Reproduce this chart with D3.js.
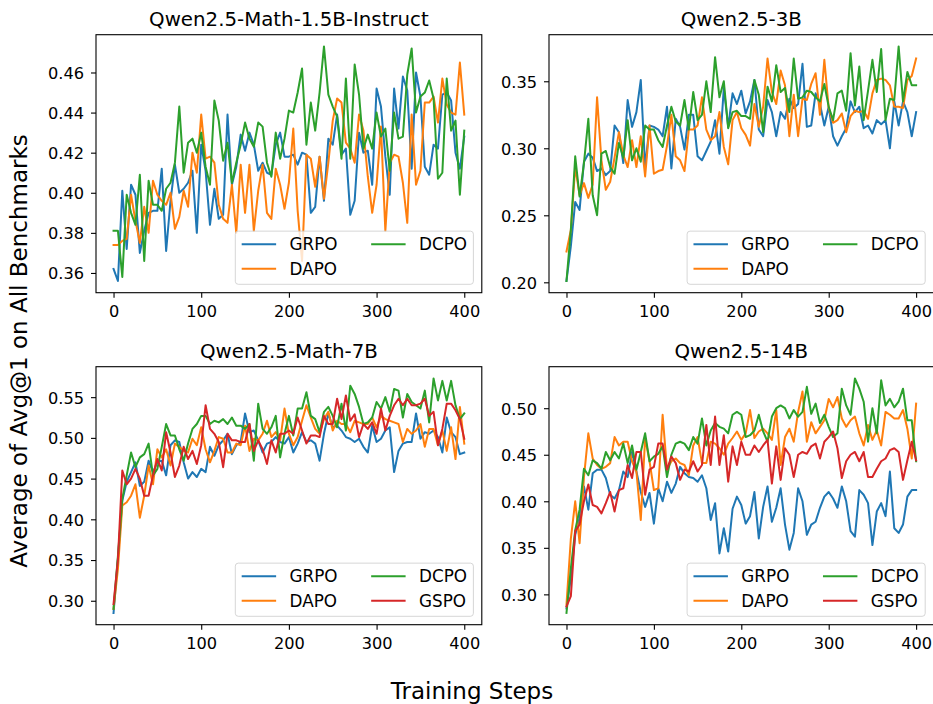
<!DOCTYPE html>
<html><head><meta charset="utf-8">
<script src="https://cdn.jsdelivr.net/npm/d3@7"></script>
<style>body{margin:0;background:#fff} svg{display:block} text{font-family:"DejaVu Sans",sans-serif;fill:#000}</style>
</head><body><svg id="c" width="933" height="704"></svg>
<script>
const steps = d3.range(0, 401, 5);
const xTicks = [0, 100, 200, 300, 400];
const methods = ["GRPO", "DAPO", "DCPO", "GSPO"];
const titles = ["Qwen2.5-Math-1.5B-Instruct", "Qwen2.5-3B", "Qwen2.5-Math-7B", "Qwen2.5-14B"];
const yTicks1 = [0.36, 0.38, 0.40, 0.42, 0.44, 0.46];
const yTicks2 = [0.20, 0.25, 0.30, 0.35];
const yTicks3 = [0.30, 0.35, 0.40, 0.45, 0.50, 0.55];
const yTicks4 = [0.30, 0.35, 0.40, 0.45, 0.50];

// Qwen2.5-Math-1.5B-Instruct
const m15_grpo = [0.362,0.356,0.401,0.372,0.404,0.399,0.370,0.381,0.390,0.391,
0.391,0.412,0.371,0.396,0.414,0.400,0.402,0.405,0.411,0.380,
0.424,0.411,0.384,0.402,0.387,0.389,0.439,0.404,0.413,0.429,
0.421,0.430,0.424,0.411,0.415,0.410,0.409,0.424,0.430,0.418,
0.418,0.419,0.414,0.420,0.419,0.390,0.393,0.418,0.396,0.427,
0.424,0.439,0.419,0.422,0.389,0.396,0.430,0.420,0.421,0.404,
0.452,0.443,0.418,0.399,0.452,0.432,0.458,0.451,0.412,0.460,
0.448,0.413,0.409,0.424,0.422,0.449,0.450,0.446,0.420,0.412,0.428];
const m15_dapo = [0.374,0.374,0.376,0.377,0.399,0.386,0.375,0.393,0.380,0.406,
0.399,0.396,0.394,0.400,0.382,0.388,0.401,0.393,0.420,0.410,
0.439,0.417,0.418,0.415,0.394,0.387,0.385,0.404,0.380,0.414,
0.390,0.414,0.381,0.401,0.414,0.390,0.387,0.412,0.404,0.392,
0.405,0.432,0.391,0.366,0.419,0.417,0.403,0.418,0.397,0.415,
0.436,0.447,0.445,0.425,0.422,0.415,0.439,0.431,0.408,0.390,
0.404,0.433,0.381,0.415,0.419,0.418,0.405,0.385,0.439,0.404,
0.411,0.445,0.445,0.448,0.435,0.457,0.444,0.440,0.439,0.465,0.439];
const m15_dcpo = [0.381,0.381,0.358,0.399,0.390,0.384,0.409,0.366,0.406,0.394,
0.394,0.391,0.402,0.405,0.415,0.443,0.410,0.425,0.427,0.420,
0.430,0.413,0.404,0.446,0.436,0.416,0.425,0.405,0.415,0.424,
0.435,0.427,0.423,0.435,0.433,0.415,0.408,0.430,0.417,0.427,
0.441,0.440,0.450,0.462,0.424,0.445,0.431,0.450,0.473,0.449,
0.443,0.438,0.417,0.457,0.417,0.464,0.449,0.422,0.429,0.422,
0.440,0.428,0.432,0.411,0.440,0.427,0.428,0.459,0.472,0.440,
0.448,0.450,0.456,0.447,0.407,0.410,0.457,0.431,0.436,0.399,0.431];

// Qwen2.5-3B
const q3_grpo = [0.201,0.227,0.260,0.254,0.290,0.296,0.293,0.283,0.285,0.280,
0.283,0.317,0.312,0.289,0.336,0.316,0.327,0.351,0.286,0.317,
0.316,0.314,0.309,0.331,0.285,0.322,0.316,0.299,0.325,0.325,
0.294,0.291,0.298,0.305,0.321,0.296,0.345,0.316,0.341,0.333,
0.343,0.326,0.335,0.351,0.314,0.309,0.336,0.327,0.309,0.327,
0.322,0.337,0.330,0.333,0.363,0.316,0.317,0.341,0.333,0.317,
0.331,0.309,0.302,0.309,0.315,0.335,0.327,0.331,0.315,0.317,
0.311,0.321,0.318,0.321,0.300,0.335,0.317,0.335,0.327,0.309,0.327];
const q3_dapo = [0.223,0.239,0.286,0.265,0.274,0.263,0.273,0.338,0.291,0.269,
0.275,0.293,0.312,0.295,0.286,0.306,0.286,0.309,0.279,0.317,
0.281,0.283,0.284,0.302,0.325,0.294,0.291,0.283,0.314,0.314,
0.317,0.338,0.314,0.306,0.309,0.327,0.301,0.288,0.321,0.327,
0.315,0.310,0.302,0.333,0.316,0.331,0.367,0.342,0.333,0.358,
0.347,0.309,0.340,0.309,0.337,0.336,0.348,0.356,0.325,0.366,
0.330,0.319,0.321,0.326,0.312,0.324,0.328,0.327,0.328,0.322,
0.341,0.351,0.352,0.351,0.347,0.331,0.331,0.330,0.351,0.354,0.367];
const q3_dcpo = [0.201,0.239,0.294,0.264,0.289,0.322,0.265,0.250,0.296,0.298,
0.286,0.281,0.304,0.293,0.321,0.291,0.300,0.290,0.317,0.314,
0.314,0.306,0.301,0.317,0.331,0.320,0.317,0.336,0.314,0.342,
0.321,0.325,0.350,0.327,0.368,0.338,0.350,0.315,0.327,0.328,
0.324,0.324,0.322,0.351,0.340,0.312,0.346,0.335,0.362,0.342,
0.345,0.327,0.367,0.337,0.338,0.343,0.342,0.338,0.335,0.348,
0.331,0.321,0.341,0.343,0.328,0.371,0.332,0.361,0.321,0.343,
0.366,0.342,0.374,0.321,0.337,0.336,0.376,0.335,0.357,0.347,0.347];

// Qwen2.5-Math-7B
const m7_grpo = [0.285,0.351,0.423,0.446,0.458,0.470,0.441,0.446,0.472,0.458,
0.470,0.472,0.454,0.491,0.497,0.495,0.470,0.450,0.458,0.452,
0.462,0.458,0.489,0.478,0.491,0.497,0.505,0.480,0.491,0.495,
0.530,0.507,0.509,0.497,0.482,0.493,0.495,0.501,0.495,0.493,
0.501,0.482,0.493,0.507,0.495,0.497,0.493,0.472,0.505,0.530,
0.513,0.515,0.509,0.501,0.499,0.495,0.499,0.489,0.482,0.515,
0.495,0.499,0.509,0.513,0.458,0.484,0.493,0.495,0.495,0.530,
0.499,0.507,0.505,0.509,0.501,0.482,0.525,0.507,0.501,0.480,0.482];
const m7_dapo = [0.290,0.339,0.417,0.421,0.429,0.443,0.402,0.429,0.466,0.443,
0.486,0.476,0.486,0.466,0.493,0.489,0.484,0.482,0.499,0.491,
0.513,0.486,0.470,0.484,0.501,0.499,0.482,0.482,0.493,0.491,
0.515,0.484,0.499,0.497,0.505,0.521,0.501,0.507,0.497,0.536,
0.505,0.491,0.501,0.521,0.540,0.525,0.511,0.505,0.523,0.532,
0.509,0.521,0.517,0.517,0.507,0.521,0.519,0.517,0.517,0.525,
0.513,0.527,0.523,0.521,0.519,0.517,0.495,0.511,0.505,0.509,
0.517,0.489,0.511,0.511,0.491,0.509,0.484,0.513,0.474,0.538,0.493];
const m7_dcpo = [0.290,0.355,0.425,0.454,0.482,0.464,0.476,0.480,0.493,0.454,
0.462,0.489,0.517,0.503,0.503,0.486,0.472,0.493,0.511,0.517,
0.527,0.527,0.517,0.521,0.519,0.523,0.517,0.525,0.515,0.515,
0.511,0.517,0.472,0.542,0.511,0.505,0.513,0.527,0.476,0.505,
0.527,0.503,0.536,0.536,0.556,0.527,0.523,0.507,0.532,0.538,
0.527,0.513,0.542,0.509,0.564,0.554,0.538,0.517,0.519,0.525,
0.544,0.536,0.550,0.532,0.560,0.558,0.525,0.554,0.544,0.540,
0.536,0.558,0.519,0.573,0.546,0.570,0.546,0.570,0.540,0.523,0.530];
const m7_gspo = [0.296,0.351,0.460,0.443,0.450,0.462,0.450,0.429,0.429,0.454,
0.474,0.460,0.507,0.482,0.452,0.466,0.489,0.474,0.484,0.468,
0.491,0.540,0.511,0.505,0.495,0.464,0.505,0.497,0.497,0.495,
0.495,0.517,0.484,0.497,0.486,0.468,0.497,0.482,0.505,0.505,
0.509,0.505,0.525,0.509,0.493,0.503,0.503,0.501,0.527,0.517,
0.517,0.548,0.523,0.552,0.521,0.529,0.501,0.517,0.511,0.519,
0.505,0.536,0.509,0.527,0.540,0.548,0.540,0.548,0.540,0.540,
0.542,0.548,0.527,0.532,0.491,0.511,0.542,0.542,0.534,0.523,0.499];

// Qwen2.5-14B
const q14_grpo = [0.285,0.318,0.364,0.382,0.416,0.391,0.430,0.434,0.434,0.425,
0.407,0.403,0.412,0.432,0.426,0.453,0.432,0.410,0.394,0.409,
0.376,0.414,0.400,0.421,0.409,0.419,0.437,0.430,0.426,0.425,
0.421,0.428,0.414,0.380,0.398,0.344,0.371,0.346,0.392,0.405,
0.396,0.376,0.384,0.410,0.360,0.394,0.416,0.378,0.393,0.414,
0.375,0.348,0.366,0.414,0.400,0.364,0.375,0.378,0.393,0.405,
0.410,0.403,0.393,0.416,0.400,0.368,0.362,0.412,0.407,0.398,
0.353,0.389,0.398,0.384,0.432,0.371,0.366,0.375,0.405,0.412,0.412];
const q14_dapo = [0.289,0.360,0.400,0.355,0.426,0.473,0.446,0.439,0.435,0.437,
0.441,0.469,0.460,0.464,0.464,0.443,0.432,0.380,0.468,0.443,
0.412,0.414,0.493,0.434,0.443,0.446,0.441,0.439,0.428,0.460,
0.469,0.441,0.441,0.464,0.462,0.457,0.450,0.462,0.468,0.475,
0.466,0.473,0.498,0.468,0.475,0.478,0.473,0.466,0.498,0.439,
0.469,0.478,0.464,0.496,0.518,0.464,0.485,0.473,0.480,0.487,
0.510,0.501,0.512,0.489,0.480,0.487,0.491,0.473,0.460,0.482,
0.466,0.476,0.460,0.496,0.493,0.489,0.489,0.498,0.478,0.446,0.505];
const q14_dcpo = [0.280,0.328,0.369,0.391,0.435,0.428,0.444,0.441,0.435,0.453,
0.444,0.453,0.446,0.462,0.441,0.460,0.434,0.453,0.473,0.443,
0.448,0.451,0.459,0.426,0.450,0.462,0.464,0.462,0.455,0.469,
0.462,0.489,0.460,0.476,0.484,0.480,0.478,0.473,0.493,0.496,
0.493,0.469,0.471,0.476,0.493,0.475,0.464,0.491,0.500,0.503,
0.500,0.489,0.498,0.491,0.496,0.523,0.494,0.505,0.484,0.493,
0.480,0.469,0.473,0.521,0.503,0.493,0.532,0.521,0.507,0.464,
0.500,0.473,0.530,0.503,0.510,0.501,0.507,0.521,0.487,0.487,0.443];
const q14_gspo = [0.287,0.298,0.368,0.375,0.400,0.418,0.396,0.394,0.387,0.398,
0.410,0.389,0.412,0.414,0.439,0.425,0.453,0.453,0.407,0.434,
0.437,0.462,0.462,0.434,0.448,0.441,0.423,0.434,0.432,0.443,
0.432,0.439,0.482,0.439,0.491,0.439,0.471,0.421,0.459,0.439,
0.464,0.450,0.450,0.460,0.453,0.460,0.466,0.419,0.459,0.423,
0.457,0.450,0.426,0.450,0.453,0.451,0.459,0.462,0.446,0.464,
0.469,0.475,0.457,0.425,0.443,0.450,0.453,0.443,0.453,0.426,
0.426,0.435,0.443,0.446,0.455,0.457,0.453,0.423,0.444,0.464,0.444];

const colors = {GRPO:"#1f77b4", DAPO:"#ff7f0e", DCPO:"#2ca02c", GSPO:"#d62728"};

const panels = [
  {title: titles[0], yTicks: yTicks1, box:{l:96, r:481.8, t:34.7, b:292.7}, series:[m15_grpo, m15_dapo, m15_dcpo]},
  {title: titles[1], yTicks: yTicks2, box:{l:549, r:933.6, t:34.7, b:292.7}, series:[q3_grpo, q3_dapo, q3_dcpo]},
  {title: titles[2], yTicks: yTicks3, box:{l:96, r:481.8, t:366.7, b:624.7}, series:[m7_grpo, m7_dapo, m7_dcpo, m7_gspo]},
  {title: titles[3], yTicks: yTicks4, box:{l:549, r:933.6, t:366.7, b:624.7}, series:[q14_grpo, q14_dapo, q14_dcpo, q14_gspo]}
];

const svg = d3.select("#c");
const TICK_FS = 16.2, LEG_FS = 16.8, TITLE_FS = 19.8, LABEL_FS = 23;

panels.forEach(p => {
  const b = p.box;
  const all = p.series.flat();
  const [mn, mx] = d3.extent(all);
  const padv = (mx - mn) * 0.05;
  const x = d3.scaleLinear().domain([-20, 420]).range([b.l, b.r]);
  const y = d3.scaleLinear().domain([mn - padv, mx + padv]).range([b.b, b.t]);
  const g = svg.append("g");

  const line = d3.line().x((d, i) => x(steps[i])).y(d => y(d));
  p.series.forEach((s, k) => {
    g.append("path").datum(s).attr("d", line)
      .attr("fill", "none").attr("stroke", colors[methods[k]])
      .attr("stroke-width", 2).attr("stroke-linejoin", "round").attr("stroke-linecap", "square");
  });

  const xa = g.append("g").attr("transform", `translate(0,${b.b})`)
    .call(d3.axisBottom(x).tickValues(xTicks).tickSize(5).tickPadding(7).tickFormat(d3.format("d")));
  const ya = g.append("g").attr("transform", `translate(${b.l},0)`)
    .call(d3.axisLeft(y).tickValues(p.yTicks).tickSize(5).tickPadding(7).tickFormat(d3.format(".2f")));
  [xa, ya].forEach(a => {
    a.select(".domain").remove();
    a.selectAll("line").attr("stroke", "#000").attr("stroke-width", 1.1);
    a.selectAll("text").attr("font-size", TICK_FS).attr("font-family", "DejaVu Sans").attr("fill", "#000");
  });
  xa.selectAll("text").attr("dy", null).attr("y", 24.5).attr("dominant-baseline", "auto");
  ya.selectAll("text").attr("dy", "0.36em");

  g.append("rect").attr("x", b.l).attr("y", b.t).attr("width", b.r - b.l).attr("height", b.b - b.t)
    .attr("fill", "none").attr("stroke", "#000").attr("stroke-width", 1.1);

  g.append("text").attr("x", (b.l + b.r) / 2).attr("y", b.t - 8.7)
    .attr("text-anchor", "middle").attr("font-size", TITLE_FS).text(p.title);

  // legend
  const names = methods.slice(0, p.series.length);
  const nrow = Math.ceil(names.length / 2);
  const cols = [names.slice(0, nrow), names.slice(nrow)];
  const fs = LEG_FS, bp = 0.38 * fs, hl = 2.05 * fs, htp = 0.8 * fs, cs = 2.0 * fs, rowH = 16, ls = 0.5 * fs, axPad = 0.5 * fs;
  const lg = g.append("g");
  const bg = lg.append("rect");
  const tmp = lg.append("g");
  const widths = cols.map(c => d3.max(c, n => {
    const t = tmp.append("text").attr("font-size", fs).text(n);
    const w = t.node().getComputedTextLength(); t.remove(); return w;
  }));
  tmp.remove();
  const W = bp * 2 + widths.reduce((a, w) => a + hl + htp + w, 0) + cs * (cols.length - 1);
  const H = bp * 2 + nrow * rowH + (nrow - 1) * ls;
  const x0 = b.r - axPad - W, y0 = b.b - axPad - H;
  bg.attr("x", x0).attr("y", y0).attr("width", W).attr("height", H).attr("rx", 3)
    .attr("fill", "rgba(255,255,255,0.8)").attr("stroke", "rgba(204,204,204,0.8)").attr("stroke-width", 1);
  let cx = x0 + bp;
  cols.forEach((c, ci) => {
    c.forEach((n, ri) => {
      const cy = y0 + bp + rowH / 2 - 1.2 + ri * (rowH + ls);
      lg.append("line").attr("x1", cx).attr("x2", cx + hl).attr("y1", cy).attr("y2", cy)
        .attr("stroke", colors[n]).attr("stroke-width", 2);
      lg.append("text").attr("x", cx + hl + htp).attr("y", cy).attr("dy", "0.36em")
        .attr("font-size", fs).text(n);
    });
    cx += hl + htp + widths[ci] + cs;
  });
});

svg.append("text").attr("x", 472).attr("y", 699).attr("text-anchor", "middle")
  .attr("font-size", LABEL_FS).text("Training Steps");
svg.append("text").attr("transform", "translate(27,351) rotate(-90)").attr("text-anchor", "middle")
  .attr("font-size", LABEL_FS).text("Average of Avg@1 on All Benchmarks");
</script></body></html>
